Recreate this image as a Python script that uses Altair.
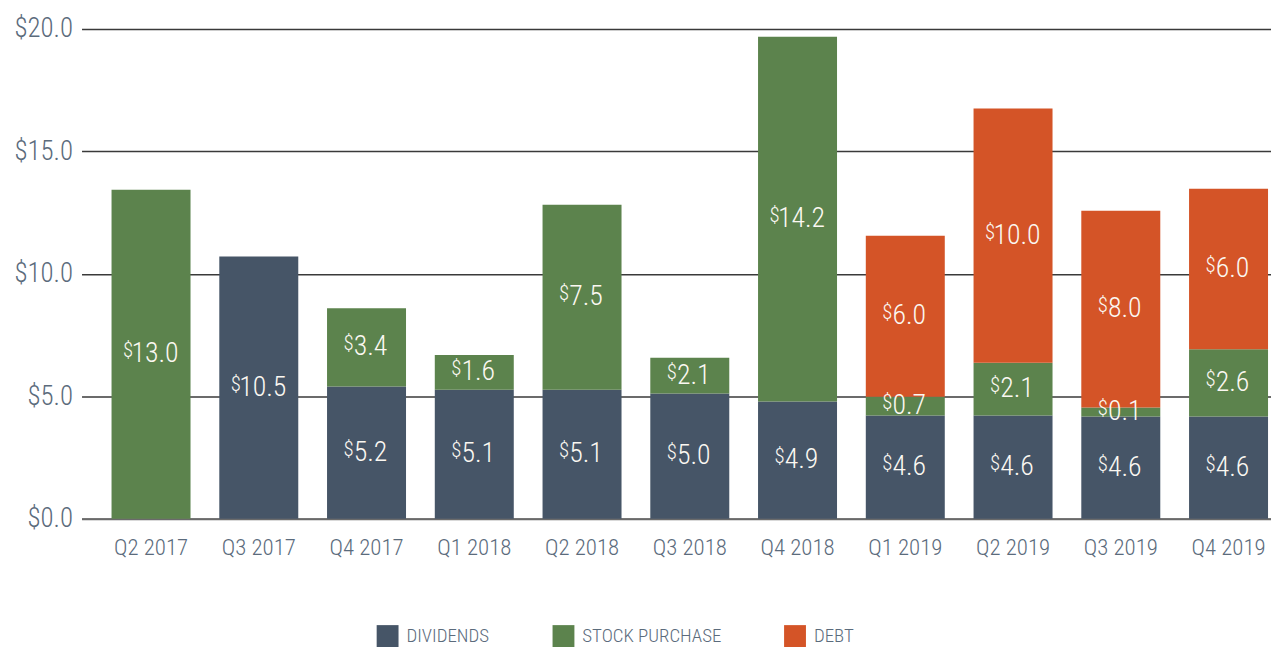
import altair as alt
import pandas as pd

quarters = ["Q2 2017", "Q3 2017", "Q4 2017", "Q1 2018", "Q2 2018", "Q3 2018",
            "Q4 2018", "Q1 2019", "Q2 2019", "Q3 2019", "Q4 2019"]
dividends = [0, 10.71, 5.40, 5.27, 5.27, 5.11, 4.79, 4.22, 4.22, 4.18, 4.18]
stock_purchase = [13.43, 0, 3.20, 1.42, 7.55, 1.46, 14.89, 0.76, 2.15, 0.36, 2.74]
debt = [0, 0, 0, 0, 0, 0, 0, 6.58, 10.38, 8.04, 6.55]
dividend_labels = ["", "10.5", "5.2", "5.1", "5.1", "5.0", "4.9", "4.6", "4.6", "4.6", "4.6"]
stock_labels = ["13.0", "", "3.4", "1.6", "7.5", "2.1", "14.2", "0.7", "2.1", "0.1", "2.6"]
debt_labels = ["", "", "", "", "", "", "", "6.0", "10.0", "8.0", "6.0"]

series_names = ["DIVIDENDS", "STOCK PURCHASE", "DEBT"]
colors = ["#465567", "#5c834d", "#d45427"]

rows = []
for i, q in enumerate(quarters):
    for k, (vals, labs) in enumerate([(dividends, dividend_labels),
                                      (stock_purchase, stock_labels),
                                      (debt, debt_labels)]):
        rows.append(dict(quarter=q, series=series_names[k], order=k,
                         value=vals[i], label=labs[i]))
df = pd.DataFrame(rows)

FONT = "Roboto Condensed"
AXIS_COLOR = "#5b6b7c"

x_main = alt.X(
    "quarter:N", sort=quarters,
    scale=alt.Scale(paddingInner=0.267, paddingOuter=0.153, align=0.91, round=False),
    axis=alt.Axis(title=None, labelAngle=0, ticks=False, domain=True,
                  domainColor="#6a6a6a", domainWidth=2, grid=False,
                  labelFont=FONT, labelFontSize=23, labelFontWeight=300,
                  labelColor=AXIS_COLOR, labelPadding=18),
)
x_lab = alt.X("quarter:N", sort=quarters)

base = alt.Chart(df)

bars = base.mark_bar().encode(
    x=x_main,
    y=alt.Y("value:Q", stack="zero",
            scale=alt.Scale(domain=[0, 20], nice=False),
            axis=alt.Axis(title=None, values=[0, 5, 10, 15, 20],
                          labelExpr="'$' + format(datum.value, '.1f')",
                          grid=True, gridColor="#3a3a3a", gridWidth=1.5,
                          domain=False, ticks=False, labelFont=FONT,
                          labelFontSize=27, labelFontWeight=300,
                          labelColor=AXIS_COLOR, labelPadding=9)),
    color=alt.Color("series:N",
                    scale=alt.Scale(domain=series_names, range=colors),
                    legend=alt.Legend(title=None, orient="none", direction="horizontal",
                                      legendX=297, legendY=600,
                                      symbolType="square", symbolSize=484,
                                      symbolStrokeWidth=0, labelFont=FONT,
                                      labelFontSize=19, labelFontWeight=300,
                                      labelColor=AXIS_COLOR, labelLimit=400,
                                      labelOffset=8, columnPadding=63)),
    order=alt.Order("order:Q"),
)

lab_base = (
    base.transform_stack(stack="value", groupby=["quarter"], as_=["y0", "y1"],
                         sort=[alt.SortField("order", "ascending")])
    .transform_filter("datum.label != ''")
    .transform_calculate(mid="(datum.y0 + datum.y1) / 2", n="length(datum.label)")
)

nums = lab_base.mark_text(font=FONT, fontSize=28, fontWeight=300, color="#fbf8f2",
                          baseline="middle", align="center", dx=4).encode(
    x=x_lab, y=alt.Y("mid:Q"), text="label:N")

d_long = lab_base.transform_filter("datum.n >= 4").mark_text(
    font=FONT, fontSize=21, fontWeight=300, color="#fbf8f2", baseline="middle",
    align="right", dx=-18, dy=-3).encode(x=x_lab, y=alt.Y("mid:Q"), text=alt.value("$"))

d_short = lab_base.transform_filter("datum.n < 4").mark_text(
    font=FONT, fontSize=21, fontWeight=300, color="#fbf8f2", baseline="middle",
    align="right", dx=-13, dy=-3).encode(x=x_lab, y=alt.Y("mid:Q"), text=alt.value("$"))

chart = alt.layer(bars, nums, d_long, d_short).properties(
    width=1197, height=493,
    autosize=alt.AutoSizeParams(type="none"),
    padding={"left": 74, "top": 19, "right": 0, "bottom": 128},
).configure_view(stroke=None)

chart.save("out.html", embed_options={"renderer": "svg", "actions": False})
